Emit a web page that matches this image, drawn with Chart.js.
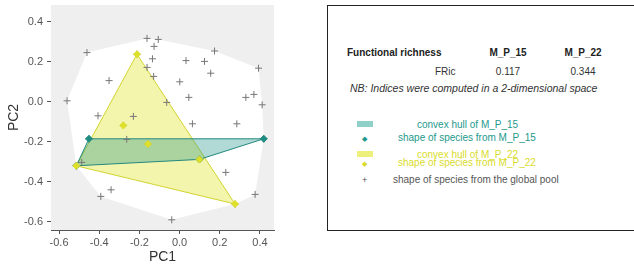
<!DOCTYPE html>
<html>
<head>
<meta charset="utf-8">
<script src="https://cdn.jsdelivr.net/npm/chart.js@4.4.1/dist/chart.umd.min.js"></script>
<style>
  html, body { margin: 0; padding: 0; background: #fff; }
  body { width: 634px; height: 267px; position: relative; overflow: hidden; font-family: "Liberation Sans", Arial, sans-serif; }
  #fd-chart { position: absolute; left: 0; top: 0; }
  .box { position: absolute; left: 327px; top: 5px; width: 320px; height: 224px; border: 1.3px solid #222; }
  .t { position: absolute; font-size: 10px; line-height: 12px; white-space: nowrap; color: #222; }
  .b { font-weight: bold; }
  .c { transform: translateX(-50%); }
  .sw { position: absolute; width: 16px; height: 6px; }
  .teal { color: #23998c; }
  .yel  { color: #d9dc2c; }
  .grey { color: #555; }
</style>
</head>
<body>
<canvas id="fd-chart" width="320" height="267"></canvas>

<div class="box"></div>
<div class="t b" style="left:347px;top:47px">Functional richness</div>
<div class="t b c" style="left:508px;top:47px">M_P_15</div>
<div class="t b c" style="left:583px;top:47px">M_P_22</div>
<div class="t" style="left:435px;top:66px;color:#333">FRic</div>
<div class="t c" style="left:508px;top:66px;color:#333">0.117</div>
<div class="t c" style="left:583px;top:66px;color:#333">0.344</div>
<div class="t" style="left:350px;top:82px;font-size:10.5px;font-style:italic;color:#333">NB: Indices were computed in a 2-dimensional space</div>

<div class="sw" style="left:357px;top:121px;background:#8fd0c8"></div>
<div class="t teal" style="left:417px;top:119px">convex hull of M_P_15</div>
<div class="t teal" style="left:362px;top:133px;font-size:7px">&#9670;</div>
<div class="t teal" style="left:398px;top:132px">shape of species from M_P_15</div>

<div class="sw" style="left:357px;top:151px;background:#eef07c"></div>
<div class="t yel" style="left:417px;top:149px">convex hull of M_P_22</div>
<div class="t yel" style="left:362px;top:158px;font-size:7px">&#9670;</div>
<div class="t yel" style="left:398px;top:157px">shape of species from M_P_22</div>

<div class="t grey" style="left:362px;top:174px;font-size:9px">+</div>
<div class="t grey" style="left:393px;top:174px">shape of species from the global pool</div>

<script>
// species coordinates in the 2D functional space
const poolPC1 = [-0.162, -0.106, -0.127, -0.461, 0.174, -0.135, 0.032, 0.124, -0.162, 0.393,
                 0.155, -0.129, -0.351, 0.001, -0.560, -0.064, 0.046, 0.330, 0.370, 0.411,
                 -0.406, -0.230, 0.064, 0.285, -0.263, -0.487, 0.230, -0.341, -0.392, 0.376, -0.039];
const poolPC2 = [0.317, 0.312, 0.277, 0.246, 0.254, 0.215, 0.206, 0.202, 0.172, 0.168,
                 0.143, 0.127, 0.106, 0.100, 0.005, -0.003, 0.022, 0.022, 0.037, -0.015,
                 -0.070, -0.073, -0.110, -0.110, -0.188, -0.303, -0.353, -0.440, -0.473, -0.463, -0.590];

const mp15PC1 = [-0.451, 0.419, 0.099, -0.514];
const mp15PC2 = [-0.185, -0.185, -0.288, -0.320];

const mp22PC1 = [-0.212, -0.514, 0.276, -0.280, -0.157, 0.099];
const mp22PC2 = [0.238, -0.320, -0.511, -0.118, -0.211, -0.288];

const xTicks = [-0.6, -0.4, -0.2, 0.0, 0.2, 0.4];
const yTicks = [-0.6, -0.4, -0.2, 0.0, 0.2, 0.4];

const toPts = (xs, ys) => xs.map((x, i) => ({ x, y: ys[i] }));

function convexHull(pts) {
  const p = [...pts].sort((a, b) => a.x - b.x || a.y - b.y);
  const cross = (o, a, b) => (a.x - o.x) * (b.y - o.y) - (a.y - o.y) * (b.x - o.x);
  const lo = [], up = [];
  for (const q of p) {
    while (lo.length >= 2 && cross(lo[lo.length - 2], lo[lo.length - 1], q) <= 0) lo.pop();
    lo.push(q);
  }
  for (const q of p.slice().reverse()) {
    while (up.length >= 2 && cross(up[up.length - 2], up[up.length - 1], q) <= 0) up.pop();
    up.push(q);
  }
  lo.pop(); up.pop();
  const h = lo.concat(up);
  h.push(h[0]);
  return h;
}

const mp15 = toPts(mp15PC1, mp15PC2);
const mp22 = toPts(mp22PC1, mp22PC2);
const pool = toPts(poolPC1, poolPC2).concat(mp15, mp22);

const panelBg = {
  id: 'panelBg',
  beforeDatasetsDraw(chart) {
    const { ctx, chartArea: a } = chart;
    ctx.save();
    ctx.fillStyle = '#efefef';
    ctx.fillRect(a.left, a.top, a.right - a.left, a.bottom - a.top);
    ctx.restore();
  }
};

const fmt = v => Math.abs(v) < 1e-9 ? '0.0' : v.toFixed(1);

new Chart(document.getElementById('fd-chart').getContext('2d'), {
  type: 'scatter',
  data: {
    datasets: [
      { data: convexHull(pool), showLine: true, fill: 'shape', backgroundColor: '#ffffff',
        borderWidth: 0, borderColor: 'rgba(0,0,0,0)', pointRadius: 0, order: 10 },
      { data: convexHull(mp22), showLine: true, fill: 'shape', backgroundColor: 'rgba(226,230,40,0.38)',
        borderColor: '#d2d42e', borderWidth: 1, pointRadius: 0, order: 9 },
      { data: convexHull(mp15), showLine: true, fill: 'shape', backgroundColor: 'rgba(32,150,138,0.35)',
        borderColor: '#23897f', borderWidth: 1, pointRadius: 0, order: 8 },
      { data: pool, pointStyle: 'cross', pointRadius: 3.5, borderColor: '#777', borderWidth: 1, order: 7 },
      { data: mp15, pointStyle: 'rectRot', pointRadius: 3.5, backgroundColor: '#1f8c82', borderColor: '#1f8c82', order: 6 },
      { data: mp22, pointStyle: 'rectRot', pointRadius: 3.5, backgroundColor: '#dfe02a', borderColor: '#dfe02a', order: 5 }
    ]
  },
  options: {
    responsive: false,
    animation: false,
    layout: { padding: { top: 5, right: 46, left: 0, bottom: 0 } },
    plugins: { legend: { display: false }, tooltip: { enabled: false } },
    scales: {
      x: {
        min: -0.64, max: 0.47,
        afterBuildTicks: axis => { axis.ticks = xTicks.map(v => ({ value: v })); },
        afterFit: axis => { axis.height = 37; axis.paddingLeft = 0; axis.paddingRight = 0; },
        grid: { drawOnChartArea: false, drawTicks: true, tickLength: 4, color: '#555' },
        border: { display: true, color: '#555', width: 1 },
        ticks: { color: '#555', font: { size: 11, family: 'Liberation Sans' }, padding: 2, maxRotation: 0, callback: fmt },
        title: { display: true, text: 'PC1', color: '#333', font: { size: 14, family: 'Liberation Sans' }, padding: { top: 0, bottom: 1 } }
      },
      y: {
        min: -0.641, max: 0.484,
        afterBuildTicks: axis => { axis.ticks = yTicks.map(v => ({ value: v })); },
        afterFit: axis => { axis.width = 51; axis.paddingTop = 0; axis.paddingBottom = 0; },
        grid: { drawOnChartArea: false, drawTicks: true, tickLength: 4, color: '#555' },
        border: { display: true, color: '#555', width: 1 },
        ticks: { color: '#555', font: { size: 11, family: 'Liberation Sans' }, padding: 4, callback: fmt },
        title: { display: true, text: 'PC2', color: '#333', font: { size: 14, family: 'Liberation Sans' }, padding: { top: 6, bottom: 0 } }
      }
    }
  },
  plugins: [panelBg]
});
</script>
</body>
</html>
